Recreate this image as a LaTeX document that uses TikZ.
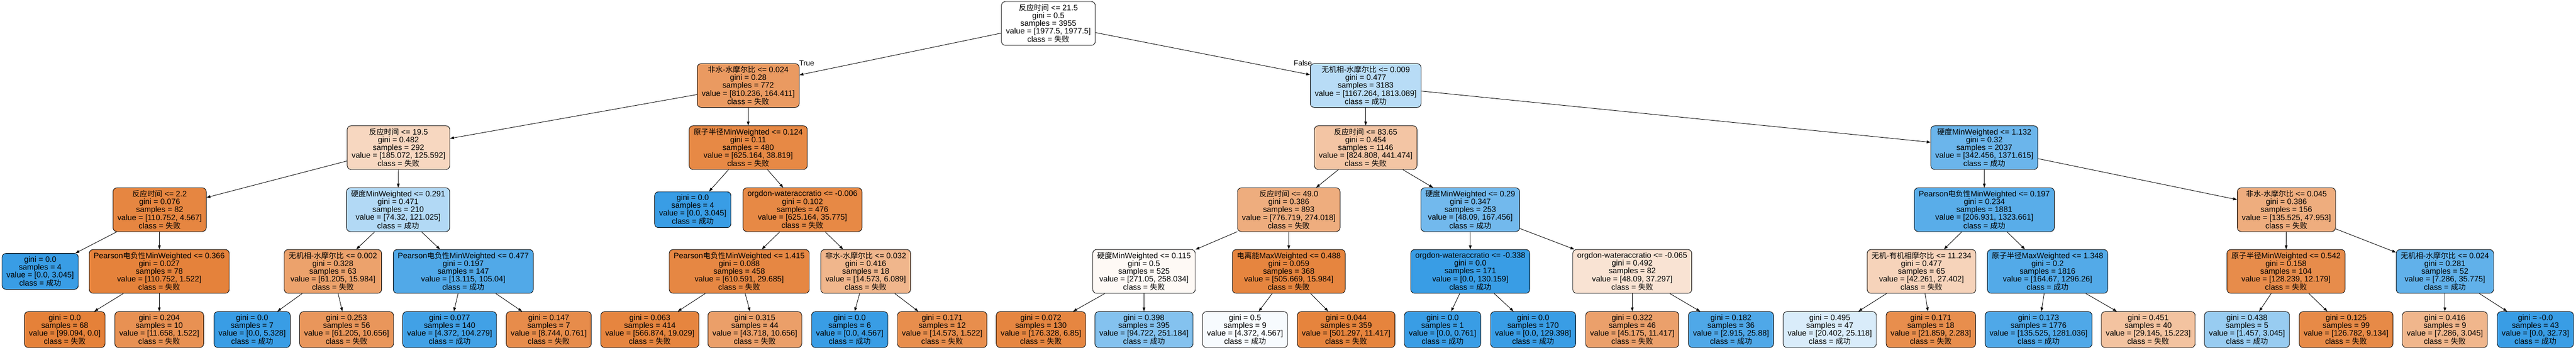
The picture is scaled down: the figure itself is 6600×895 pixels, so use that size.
\documentclass[tikz,border=0pt]{standalone}
\usepackage{fontspec}
\setmainfont{Liberation Sans}
\newfontfamily\cjk[Scale=0.95]{Noto Sans CJK SC}
\usepackage{tikz}
\usetikzlibrary{arrows.meta}
\definecolor{fail}{RGB}{229,129,57}
\definecolor{win}{RGB}{57,157,229}
\newcommand{\cls}[1]{class = {\cjk #1}}

\begin{document}
\begin{tikzpicture}[x=1pt, y=-1pt,
    box/.style={draw, rounded corners=10pt, line width=1.2pt, align=center, inner xsep=11.5pt, inner ysep=5pt, font=\fontsize{20.2}{20}\selectfont, minimum height=112pt},
    leaf/.style={box, minimum height=92pt},
    neg/.style={fill=fail!#1!white},
    pos/.style={fill=win!#1!white},
    edge/.style={line width=1.2pt, -{Triangle[length=10pt, width=7pt]}},
    lbl/.style={font=\fontsize{19}{19}\selectfont}]
    \useasboundingbox (0,0) rectangle (6600,895);
    % depth 0 and 1
    \node [box, neg=0] (root) at (2686,60) {{\cjk 反应时间} <= 21.5 \\ gini = 0.5 \\ samples = 3955 \\ value = [1977.5, 1977.5] \\ \cls{失败}};
    \node [box, neg=80] (a) at (1917,219) {{\cjk 非水-水摩尔比} <= 0.024 \\ gini = 0.28 \\ samples = 772 \\ value = [810.236, 164.411] \\ \cls{失败}};
    \node [box, pos=36] (b) at (3499,219) {{\cjk 无机相-水摩尔比} <= 0.009 \\ gini = 0.477 \\ samples = 3183 \\ value = [1167.264, 1813.089] \\ \cls{成功}};
    \node [lbl] (truelbl) at (2067,162) {True};
    \node [lbl] (falselbl) at (3338,161) {False};
    % depth 2
    \node [box, neg=32] (aa) at (1021,378) {{\cjk 反应时间} <= 19.5 \\ gini = 0.482 \\ samples = 292 \\ value = [185.072, 125.592] \\ \cls{失败}};
    \node [box, neg=94] (ab) at (1917,378) {{\cjk 原子半径}MinWeighted <= 0.124 \\ gini = 0.11 \\ samples = 480 \\ value = [625.164, 38.819] \\ \cls{失败}};
    \node [box, neg=46] (ba) at (3499,378) {{\cjk 反应时间} <= 83.65 \\ gini = 0.454 \\ samples = 1146 \\ value = [824.808, 441.474] \\ \cls{失败}};
    \node [box, pos=75] (bb) at (5084,378) {{\cjk 硬度}MinWeighted <= 1.132 \\ gini = 0.32 \\ samples = 2037 \\ value = [342.456, 1371.615] \\ \cls{成功}};
    % depth 3
    \node [box, neg=96] (aaa) at (409,537) {{\cjk 反应时间} <= 2.2 \\ gini = 0.076 \\ samples = 82 \\ value = [110.752, 4.567] \\ \cls{失败}};
    \node [box, pos=39] (aab) at (1020,537) {{\cjk 硬度}MinWeighted <= 0.291 \\ gini = 0.471 \\ samples = 210 \\ value = [74.32, 121.025] \\ \cls{成功}};
    \node [leaf, pos=100] (aba) at (1775,537) {gini = 0.0 \\ samples = 4 \\ value = [0.0, 3.045] \\ \cls{成功}};
    \node [box, neg=94] (abb) at (2056,537) {orgdon-wateraccratio <= -0.006 \\ gini = 0.102 \\ samples = 476 \\ value = [625.164, 35.775] \\ \cls{失败}};
    \node [box, neg=65] (baa) at (3302,537) {{\cjk 反应时间} <= 49.0 \\ gini = 0.386 \\ samples = 893 \\ value = [776.719, 274.018] \\ \cls{失败}};
    \node [box, pos=71] (bab) at (3767,537) {{\cjk 硬度}MinWeighted <= 0.29 \\ gini = 0.347 \\ samples = 253 \\ value = [48.09, 167.456] \\ \cls{成功}};
    \node [box, pos=84] (bba) at (5084,537) {Pearson{\cjk 电负性}MinWeighted <= 0.197 \\ gini = 0.234 \\ samples = 1881 \\ value = [206.931, 1323.661] \\ \cls{成功}};
    \node [box, neg=65] (bbb) at (5858,537) {{\cjk 非水-水摩尔比} <= 0.045 \\ gini = 0.386 \\ samples = 156 \\ value = [135.525, 47.953] \\ \cls{失败}};
    % depth 4
    \node [leaf, pos=100] (aaaa) at (103,695) {gini = 0.0 \\ samples = 4 \\ value = [0.0, 3.045] \\ \cls{成功}};
    \node [box, neg=99] (aaab) at (408,695) {Pearson{\cjk 电负性}MinWeighted <= 0.366 \\ gini = 0.027 \\ samples = 78 \\ value = [110.752, 1.522] \\ \cls{失败}};
    \node [box, neg=74] (aaba) at (853,695) {{\cjk 无机相-水摩尔比} <= 0.002 \\ gini = 0.328 \\ samples = 63 \\ value = [61.205, 15.984] \\ \cls{失败}};
    \node [box, pos=88] (aabb) at (1187,695) {Pearson{\cjk 电负性}MinWeighted <= 0.477 \\ gini = 0.197 \\ samples = 147 \\ value = [13.115, 105.04] \\ \cls{成功}};
    \node [box, neg=95] (abba) at (1894,695) {Pearson{\cjk 电负性}MinWeighted <= 1.415 \\ gini = 0.088 \\ samples = 458 \\ value = [610.591, 29.685] \\ \cls{失败}};
    \node [box, neg=58] (abbb) at (2218,695) {{\cjk 非水-水摩尔比} <= 0.032 \\ gini = 0.416 \\ samples = 18 \\ value = [14.573, 6.089] \\ \cls{失败}};
    \node [box, neg=5] (baaa) at (2931,695) {{\cjk 硬度}MinWeighted <= 0.115 \\ gini = 0.5 \\ samples = 525 \\ value = [271.05, 258.034] \\ \cls{失败}};
    \node [box, neg=97] (baab) at (3302,695) {{\cjk 电离能}MaxWeighted <= 0.488 \\ gini = 0.059 \\ samples = 368 \\ value = [505.669, 15.984] \\ \cls{失败}};
    \node [box, pos=100] (baba) at (3767,695) {orgdon-wateraccratio <= -0.338 \\ gini = 0.0 \\ samples = 171 \\ value = [0.0, 130.159] \\ \cls{成功}};
    \node [box, neg=22] (babb) at (4182,695) {orgdon-wateraccratio <= -0.065 \\ gini = 0.492 \\ samples = 82 \\ value = [48.09, 37.297] \\ \cls{失败}};
    \node [box, neg=35] (bbaa) at (4923,695) {{\cjk 无机-有机相摩尔比} <= 11.234 \\ gini = 0.477 \\ samples = 65 \\ value = [42.261, 27.402] \\ \cls{失败}};
    \node [box, pos=87] (bbab) at (5246,695) {{\cjk 原子半径}MaxWeighted <= 1.348 \\ gini = 0.2 \\ samples = 1816 \\ value = [164.67, 1296.26] \\ \cls{成功}};
    \node [box, neg=91] (bbba) at (5857,695) {{\cjk 原子半径}MinWeighted <= 0.542 \\ gini = 0.158 \\ samples = 104 \\ value = [128.239, 12.179] \\ \cls{失败}};
    \node [box, pos=80] (bbbb) at (6264,695) {{\cjk 无机相-水摩尔比} <= 0.024 \\ gini = 0.281 \\ samples = 52 \\ value = [7.286, 35.775] \\ \cls{成功}};
    % depth 5
    \node [leaf, neg=100] (aaaba) at (166,844) {gini = 0.0 \\ samples = 68 \\ value = [99.094, 0.0] \\ \cls{失败}};
    \node [leaf, neg=87] (aaabb) at (408,844) {gini = 0.204 \\ samples = 10 \\ value = [11.658, 1.522] \\ \cls{失败}};
    \node [leaf, pos=100] (aabaa) at (646,844) {gini = 0.0 \\ samples = 7 \\ value = [0.0, 5.328] \\ \cls{成功}};
    \node [leaf, neg=83] (aabab) at (888,844) {gini = 0.253 \\ samples = 56 \\ value = [61.205, 10.656] \\ \cls{失败}};
    \node [leaf, pos=96] (aabba) at (1152,844) {gini = 0.077 \\ samples = 140 \\ value = [4.372, 104.279] \\ \cls{成功}};
    \node [leaf, neg=91] (aabbb) at (1406,844) {gini = 0.147 \\ samples = 7 \\ value = [8.744, 0.761] \\ \cls{失败}};
    \node [leaf, neg=97] (abbaa) at (1665,844) {gini = 0.063 \\ samples = 414 \\ value = [566.874, 19.029] \\ \cls{失败}};
    \node [leaf, neg=76] (abbab) at (1934,844) {gini = 0.315 \\ samples = 44 \\ value = [43.718, 10.656] \\ \cls{失败}};
    \node [leaf, pos=100] (abbba) at (2177,844) {gini = 0.0 \\ samples = 6 \\ value = [0.0, 4.567] \\ \cls{成功}};
    \node [leaf, neg=90] (abbbb) at (2414,844) {gini = 0.171 \\ samples = 12 \\ value = [14.573, 1.522] \\ \cls{失败}};
    \node [leaf, neg=96] (baaaa) at (2667,844) {gini = 0.072 \\ samples = 130 \\ value = [176.328, 6.85] \\ \cls{失败}};
    \node [leaf, pos=62] (baaab) at (2931,844) {gini = 0.398 \\ samples = 395 \\ value = [94.722, 251.184] \\ \cls{成功}};
    \node [leaf, pos=4] (baaba) at (3190,844) {gini = 0.5 \\ samples = 9 \\ value = [4.372, 4.567] \\ \cls{成功}};
    \node [leaf, neg=98] (baabb) at (3449,844) {gini = 0.044 \\ samples = 359 \\ value = [501.297, 11.417] \\ \cls{失败}};
    \node [leaf, pos=100] (babaa) at (3696,844) {gini = 0.0 \\ samples = 1 \\ value = [0.0, 0.761] \\ \cls{成功}};
    \node [leaf, pos=100] (babab) at (3928,844) {gini = 0.0 \\ samples = 170 \\ value = [0.0, 129.398] \\ \cls{成功}};
    \node [leaf, neg=75] (babba) at (4182,844) {gini = 0.322 \\ samples = 46 \\ value = [45.175, 11.417] \\ \cls{失败}};
    \node [leaf, pos=89] (babbb) at (4435,844) {gini = 0.182 \\ samples = 36 \\ value = [2.915, 25.88] \\ \cls{成功}};
    \node [leaf, pos=19] (bbaaa) at (4688,844) {gini = 0.495 \\ samples = 47 \\ value = [20.402, 25.118] \\ \cls{成功}};
    \node [leaf, neg=90] (bbaab) at (4947,844) {gini = 0.171 \\ samples = 18 \\ value = [21.859, 2.283] \\ \cls{失败}};
    \node [leaf, pos=89] (bbaba) at (5223,844) {gini = 0.173 \\ samples = 1776 \\ value = [135.525, 1281.036] \\ \cls{成功}};
    \node [leaf, neg=48] (bbabb) at (5504,844) {gini = 0.451 \\ samples = 40 \\ value = [29.145, 15.223] \\ \cls{失败}};
    \node [leaf, pos=52] (bbbaa) at (5757,844) {gini = 0.438 \\ samples = 5 \\ value = [1.457, 3.045] \\ \cls{成功}};
    \node [leaf, neg=93] (bbbab) at (6011,844) {gini = 0.125 \\ samples = 99 \\ value = [126.782, 9.134] \\ \cls{失败}};
    \node [leaf, neg=58] (bbbba) at (6264,844) {gini = 0.416 \\ samples = 9 \\ value = [7.286, 3.045] \\ \cls{失败}};
    \node [leaf, pos=100] (bbbbb) at (6496,844) {gini = -0.0 \\ samples = 43 \\ value = [0.0, 32.73] \\ \cls{成功}};
    % edges
    \foreach \p/\c in {root/a, root/b, a/aa, a/ab, b/ba, b/bb,
        aa/aaa, aa/aab, ab/aba, ab/abb, ba/baa, ba/bab, bb/bba, bb/bbb,
        aaa/aaaa, aaa/aaab, aab/aaba, aab/aabb, abb/abba, abb/abbb, baa/baaa, baa/baab,
        bab/baba, bab/babb, bba/bbaa, bba/bbab, bbb/bbba, bbb/bbbb,
        aaab/aaaba, aaab/aaabb, aaba/aabaa, aaba/aabab, aabb/aabba, aabb/aabbb,
        abba/abbaa, abba/abbab, abbb/abbba, abbb/abbbb, baaa/baaaa, baaa/baaab,
        baab/baaba, baab/baabb, baba/babaa, baba/babab, babb/babba, babb/babbb,
        bbaa/bbaaa, bbaa/bbaab, bbab/bbaba, bbab/bbabb, bbba/bbbaa, bbba/bbbab,
        bbbb/bbbba, bbbb/bbbbb}
        \draw [edge] (\p) -- (\c);
\end{tikzpicture}
\end{document}
